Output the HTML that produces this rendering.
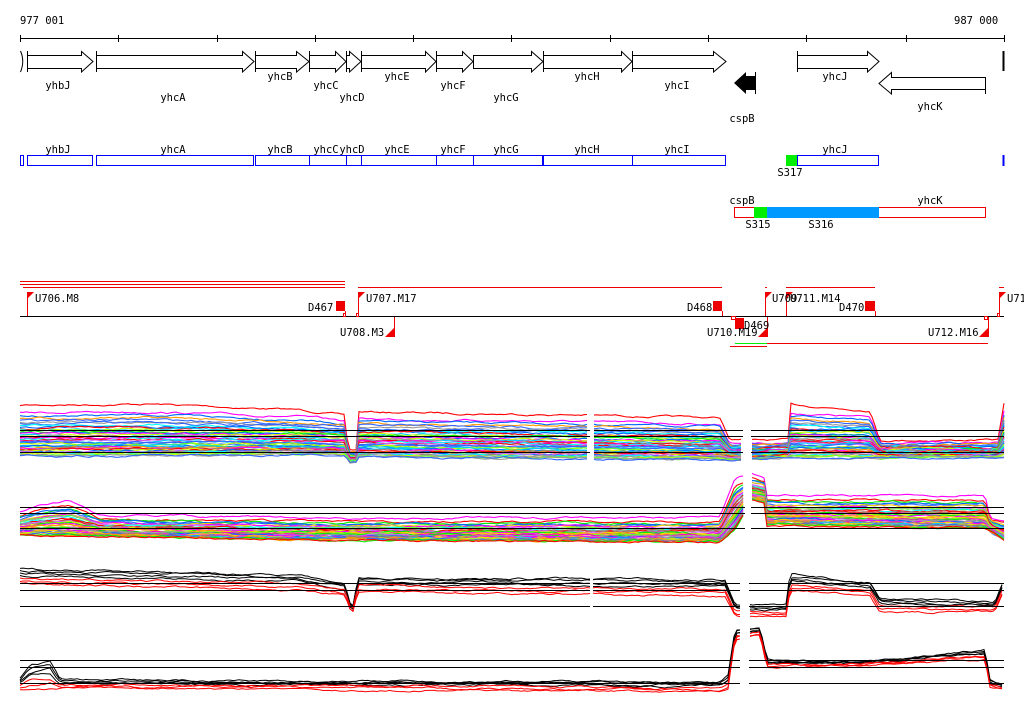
<!DOCTYPE html>
<html><head><meta charset="utf-8"><style>
html,body{margin:0;padding:0;background:#fff;width:1024px;height:714px;overflow:hidden}
svg{display:block}
text{font-family:"DejaVu Sans Mono","Liberation Mono",monospace;font-size:10.5px;fill:#000}
</style></head><body>
<svg id="s" width="1024" height="714" viewBox="0 0 1024 714" xmlns="http://www.w3.org/2000/svg">
<g stroke="#000" stroke-width="1" fill="none" shape-rendering="crispEdges">
<line x1="20" y1="38.5" x2="1004" y2="38.5"/>
<path d="M20.5 35v7M118.5 35v7M217.5 35v7M315.5 35v7M413.5 35v7M511.5 35v7M610.5 35v7M708.5 35v7M806.5 35v7M906.5 35v7M1004.5 35v7"/>
</g>
<text x="20" y="24">977 001</text>
<text x="954" y="24">987 000</text>
<g stroke="#000" stroke-width="1" fill="#fff">
<path d="M20.5 51 Q25 61 20.5 72"/>
<path d="M27.5 51v21M27.5 55.5H81.5V51.5L93 61.5 81.5 72V68.5H27.5"/>
<path d="M96.5 51v21M96.5 55.5H242.5V51.5L254 61.5 242.5 72V68.5H96.5"/>
<path d="M255.5 51v21M255.5 55.5H296.5V51.5L309 61.5 296.5 72V68.5H255.5"/>
<path d="M309.5 51v21M309.5 55.5H335.5V51.5L346 61.5 335.5 72V68.5H309.5"/>
<path d="M346.5 51v21M346.5 55.5H349.5V51.5L361 61.5 349.5 72V68.5H346.5"/>
<path d="M361.5 51v21M361.5 55.5H425.5V51.5L436 61.5 425.5 72V68.5H361.5"/>
<path d="M436.5 51v21M436.5 55.5H462.5V51.5L473 61.5 462.5 72V68.5H436.5"/>
<path d="M473.5 55.5H531.5V51.5L543 61.5 531.5 72V68.5H473.5Z"/>
<path d="M543.5 51v21M543.5 55.5H621.5V51.5L632 61.5 621.5 72V68.5H543.5"/>
<path d="M632.5 51v21M632.5 55.5H713.5V51.5L726 61.5 713.5 72V68.5H632.5"/>
<path d="M797.5 51v21M797.5 55.5H867.5V51.5L879 61.5 867.5 72V68.5H797.5"/>
<path d="M985.5 77v17M985.5 77.5H891.5V72.5L879 83.5 891.5 94V89.5H985.5"/>
<path d="M755.5 72v22" />
<path d="M1003.5 51v20" stroke-width="2"/>
</g>
<path d="M755 76H746V72L734 83 746 94V90H755Z" fill="#000"/>
<g text-anchor="middle">
<text x="58" y="89">yhbJ</text><text x="173" y="101">yhcA</text><text x="280" y="80">yhcB</text>
<text x="326" y="89">yhcC</text><text x="352" y="101">yhcD</text><text x="397" y="80">yhcE</text>
<text x="453" y="89">yhcF</text><text x="506" y="101">yhcG</text><text x="587" y="80">yhcH</text>
<text x="677" y="89">yhcI</text><text x="742" y="122">cspB</text><text x="835" y="80">yhcJ</text>
<text x="930" y="110">yhcK</text>
<text x="58" y="153">yhbJ</text><text x="173" y="153">yhcA</text><text x="280" y="153">yhcB</text>
<text x="326" y="153">yhcC</text><text x="352" y="153">yhcD</text><text x="397" y="153">yhcE</text>
<text x="453" y="153">yhcF</text><text x="506" y="153">yhcG</text><text x="587" y="153">yhcH</text>
<text x="677" y="153">yhcI</text><text x="835" y="153">yhcJ</text>
<text x="790" y="176">S317</text>
<text x="742" y="204">cspB</text><text x="930" y="204">yhcK</text>
<text x="758" y="228">S315</text><text x="821" y="228">S316</text>
</g>
<g stroke="#0000ff" fill="none" stroke-width="1" shape-rendering="crispEdges">
<rect x="20.5" y="155.5" width="3" height="10"/>
<rect x="27.5" y="155.5" width="65" height="10"/>
<rect x="96.5" y="155.5" width="157" height="10"/>
<rect x="255.5" y="155.5" width="54" height="10"/>
<rect x="309.5" y="155.5" width="37" height="10"/>
<rect x="346.5" y="155.5" width="15" height="10"/>
<rect x="361.5" y="155.5" width="75" height="10"/>
<rect x="436.5" y="155.5" width="37" height="10"/>
<rect x="473.5" y="155.5" width="69" height="10"/>
<rect x="543.5" y="155.5" width="89" height="10"/>
<rect x="632.5" y="155.5" width="93" height="10"/>
<rect x="797.5" y="155.5" width="81" height="10"/>
<line x1="1003.5" y1="155" x2="1003.5" y2="166" stroke-width="2"/>
</g>
<rect x="786" y="155" width="11" height="11" fill="#00ee00"/>
<rect x="734.5" y="207.5" width="251" height="10" fill="#fff" stroke="#ee0000"/>
<rect x="754" y="207" width="13" height="11" fill="#00ee00"/>
<rect x="767" y="207" width="112" height="11" fill="#0099ff"/>
<g stroke="#ee0000" stroke-width="1" shape-rendering="crispEdges">
<path d="M20 281.5H345M20 284.5H345M23 287.5H345M358 287.5H722M765 287.5H767M786 287.5H875M999 287.5H1004M767 343.5H988M730 346.5H767"/>
<path d="M27.5 292v24M345.5 311v5M358.5 292v24M722.5 311v5M394.5 316v21M767.5 316v21M765.5 292v24M786.5 292v24M875.5 311v5M988.5 316v21M999.5 292v24"/>
</g>
<line x1="735" y1="343.5" x2="767" y2="343.5" stroke="#00ee00"/>
<line x1="20" y1="316.5" x2="1004" y2="316.5" stroke="#000"/>
<g fill="#ee0000">
<path d="M27 292h7l-7 7z"/><path d="M358 292h7l-7 7z"/><path d="M765 292h7l-7 7z"/><path d="M786 292h7l-7 7z"/><path d="M999 292h7l-7 7z"/>
<rect x="336" y="301" width="9" height="10"/><rect x="713" y="301" width="9" height="10"/><rect x="865" y="301" width="10" height="10"/>
<rect x="735" y="318" width="9" height="11"/>
<path d="M394 328v9h-9z"/><path d="M767 328v9h-9z"/><path d="M988 328v9h-9z"/>
</g>
<g fill="none" stroke="#ee0000" shape-rendering="crispEdges">
<rect x="343.5" y="313.5" width="2" height="3"/><rect x="356.5" y="313.5" width="2" height="3"/><rect x="731.5" y="316.5" width="4" height="3"/><rect x="984.5" y="316.5" width="3" height="3"/><rect x="997.5" y="313.5" width="2" height="3"/>
</g>
<text x="35" y="302">U706.M8</text><text x="308" y="311">D467</text>
<text x="366" y="302">U707.M17</text><text x="687" y="311">D468</text>
<text x="340" y="336">U708.M3</text><text x="707" y="336">U710.M19</text>
<text x="744" y="329">D469</text>
<text x="772" y="302">U709</text><text x="790" y="302">U711.M14</text>
<text x="839" y="311">D470</text><text x="928" y="336">U712.M16</text>
<text x="1007" y="302">U71</text>
<g id="plots"></g>
<g stroke="#000" stroke-width="1.2" shape-rendering="crispEdges">
<path d="M20 430.5H1004M20 436.5H1004M20 452.5H1004"/>
<path d="M20 507.5H1004M20 513.5H1004M20 528.5H1004"/>
<path d="M20 583.5H1004M20 590.5H1004M20 606.5H1004"/>
<path d="M20 660.5H1004M20 667.5H1004M20 683.5H1004"/>
</g>
<g fill="#fff">
<rect x="590" y="395" width="4" height="70"/><rect x="743" y="395" width="8" height="70"/>
<rect x="745" y="470" width="6" height="80"/>
<rect x="590" y="560" width="3" height="65"/><rect x="740" y="560" width="9" height="65"/>
<rect x="740" y="620" width="9" height="80"/>
</g>
</svg>
<script>
(function(){
var seed=7;function r(){seed=(seed*16807)%2147483647;return seed/2147483647;}
function interp(pts,x){for(var i=0;i<pts.length-1;i++){if(x>=pts[i][0]&&x<=pts[i+1][0]){var t=(x-pts[i][0])/((pts[i+1][0]-pts[i][0])||1);return pts[i][1]+t*(pts[i+1][1]-pts[i][1]);}}return pts[pts.length-1][1];}
var cols=["#ff0000","#ff9900","#ff00ff","#00ffff","#0066ff","#00ee00","#ccff00","#999999","#a08070","#ff00cc","#00ccff","#66ff33","#ffcc00","#3366ff","#cc66ff"];
var g=document.getElementById("plots");var NS="http://www.w3.org/2000/svg";
function draw(top,bot,ranges,n,palette,wid,dense){
 for(var i=0;i<n;i++){var f=i/(n-1);if(dense)f=Math.sqrt(f);else f=f*f*0.3+f*0.7; var c=palette[i%palette.length];if(palette===cols)c=cols[Math.floor(r()*cols.length)];
  ranges.forEach(function(rg){var pts=[],off=0;
   for(var x=rg[0];x<=rg[1];x+=3){off+= (r()-0.5)*1.6;off*=0.85;var y=interp(top,x)+f*(interp(bot,x)-interp(top,x))+off;pts.push(x+","+y.toFixed(1));}
   var p=document.createElementNS(NS,"polyline");p.setAttribute("points",pts.join(" "));p.setAttribute("fill","none");p.setAttribute("stroke",c);p.setAttribute("stroke-width",wid);g.appendChild(p);});
 }
}
draw([[20,405],[150,404],[300,410],[345,415],[348,450],[356,450],[358,412],[590,415],[720,418],[730,440],[788,440],[789,405],[870,410],[880,440],[998,440],[1004,403]],
     [[20,456],[345,455],[350,462],[356,462],[358,457],[740,460],[788,458],[880,458],[1004,457]],
     [[20,588],[594,742],[752,1004]],45,cols,1.1,true);
draw([[20,512],[40,505],[70,500],[100,515],[300,518],[720,518],[735,478],[752,474],[765,478],[767,495],[985,495],[990,518],[1004,520]],
     [[20,535],[300,540],[720,542],[735,530],[752,500],[765,502],[767,525],[985,528],[1004,540]],
     [[20,744],[752,1004]],40,cols,1.1,true);
draw([[20,569],[300,575],[345,585],[352,612],[358,578],[725,580],[735,605],[786,605],[790,575],[870,582],[880,598],[995,602],[1004,580]],
     [[20,584],[300,590],[345,595],[352,615],[358,592],[725,596],[735,616],[786,616],[790,590],[870,595],[880,612],[995,612],[1004,590]],
     [[20,740],[750,1004]],7,["#000","#000","#000","#000","#ff0000","#ff0000","#ff0000"],1,false);
draw([[20,678],[30,665],[50,662],[60,680],[720,682],[728,675],[735,630],[760,628],[767,660],[860,662],[985,650],[990,680],[1004,685]],
     [[20,690],[60,688],[720,692],[728,690],[735,640],[760,635],[767,668],[860,665],[985,660],[990,688],[1004,690]],
     [[20,740],[750,1004]],7,["#000","#000","#000","#000","#ff0000","#ff0000","#ff0000"],1,false);
})();
</script>
</body></html>
